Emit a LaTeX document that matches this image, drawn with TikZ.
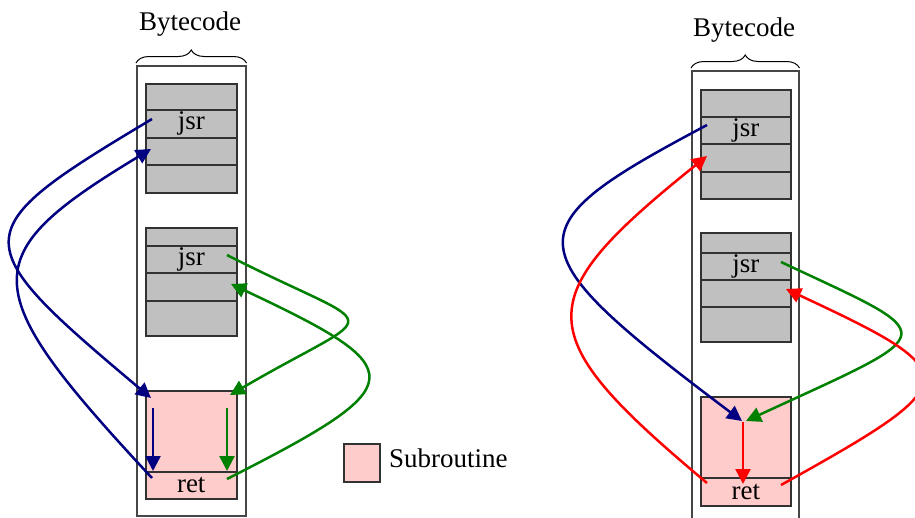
\documentclass[tikz,border=0pt]{standalone}
\usepackage{fontspec}
\setmainfont{Liberation Serif}
\usetikzlibrary{arrows.meta,decorations.pathreplacing}

\definecolor{bcgray}{RGB}{192,192,192}
\definecolor{subpink}{RGB}{255,204,204}
\definecolor{navyblue}{RGB}{0,0,128}
\definecolor{darkgreen}{RGB}{0,128,0}
\definecolor{edgegray}{RGB}{50,50,50}
\definecolor{framegray}{RGB}{70,70,70}

\tikzset{
  txt/.style={font=\fontsize{27}{27}\selectfont, inner sep=0pt},
  frame/.style={draw=framegray, line width=1.5pt, inner sep=0pt, anchor=north west},
  coderow/.style={draw=edgegray, fill=bcgray, line width=1.5pt, inner sep=0pt,
    anchor=north west, txt},
  subrow/.style={coderow, fill=subpink},
  bytebrace/.style={draw=black, line width=1pt, decorate,
    decoration={brace, amplitude=13pt}},
  flow/.style={line width=2.5pt, -{Triangle[length=15pt,width=15pt]}},
  flowblue/.style={flow, draw=navyblue},
  flowgreen/.style={flow, draw=darkgreen},
  flowred/.style={flow, draw=red},
}

\begin{document}
\begin{tikzpicture}[x=1pt,y=1pt]
\useasboundingbox (0,0) rectangle (915,-517);
\clip (0,0) rectangle (915,-517);

% ---------------- left column ----------------
\node[frame, minimum width=109pt, minimum height=450pt] (LB) at (136,-65) {};
\draw[bytebrace] ([yshift=2pt]LB.north west) -- ([yshift=2pt]LB.north east);
\node[txt] (Ltitle) at (190,-24) {Bytecode};

\node[coderow, minimum width=91pt, minimum height=26pt] (L1a) at (145,-83) {};
\node[coderow, minimum width=91pt, minimum height=28pt] (L1b) at (145,-109) {jsr};
\node[coderow, minimum width=91pt, minimum height=27pt] (L1c) at (145,-137) {};
\node[coderow, minimum width=91pt, minimum height=28pt] (L1d) at (145,-164) {};

\node[coderow, minimum width=91pt, minimum height=18pt] (L2a) at (145,-227) {};
\node[coderow, minimum width=91pt, minimum height=27pt] (L2b) at (145,-245) {jsr};
\node[coderow, minimum width=91pt, minimum height=28pt] (L2c) at (145,-272) {};
\node[coderow, minimum width=91pt, minimum height=35pt] (L2d) at (145,-300) {};

\node[subrow, minimum width=91pt, minimum height=81pt] (LSa) at (145,-390) {};
\node[subrow, minimum width=91pt, minimum height=27pt] (LSb) at (145,-471) {ret};

% connector end points
\coordinate (lb1s) at (152,-119);
\coordinate (lb1e) at (151,-398);
\coordinate (lb2s) at (152,-478);
\coordinate (lb2e) at (151,-149);
\coordinate (lg1s) at (227,-255);
\coordinate (lg1e) at (230,-395);
\coordinate (lg2s) at (227,-479);
\coordinate (lg2e) at (231,-284);
\coordinate (lbvs) at (153,-408);
\coordinate (lbve) at (153,-471);
\coordinate (lgvs) at (227,-408);
\coordinate (lgve) at (227,-471);

\draw[flowblue] (lb1s) .. controls (-37,-232) and (-37,-240) .. (lb1e);
\draw[flowblue] (lb2s) .. controls (-26,-287) and (-26,-256) .. (lb2e);
\draw[flowgreen] (lg1s) .. controls (386,-336) and (386,-304) .. (lg1e);
\draw[flowgreen] (lg2s) .. controls (414,-384) and (414,-370) .. (lg2e);
\draw[flowblue] (lbvs) -- (lbve);
\draw[flowgreen] (lgvs) -- (lgve);

% ---------------- legend ----------------
\node[subrow, minimum width=36pt, minimum height=38pt] (legbox) at (343,-443) {};
\node[txt, anchor=west] (legtext) at (389,-458) {Subroutine};

% ---------------- right column ----------------
\node[frame, minimum width=107pt, minimum height=460pt] (RB) at (691,-70) {};
\draw[bytebrace] ([yshift=2pt]RB.north west) -- ([yshift=2pt]RB.north east);
\node[txt] (Rtitle) at (744,-30) {Bytecode};

\node[coderow, minimum width=90pt, minimum height=27pt] (R1a) at (700,-89) {};
\node[coderow, minimum width=90pt, minimum height=27pt] (R1b) at (700,-116) {jsr};
\node[coderow, minimum width=90pt, minimum height=28pt] (R1c) at (700,-143) {};
\node[coderow, minimum width=90pt, minimum height=27pt] (R1d) at (700,-171) {};

\node[coderow, minimum width=90pt, minimum height=20pt] (R2a) at (700,-232) {};
\node[coderow, minimum width=90pt, minimum height=27pt] (R2b) at (700,-252) {jsr};
\node[coderow, minimum width=90pt, minimum height=27pt] (R2c) at (700,-279) {};
\node[coderow, minimum width=90pt, minimum height=35pt] (R2d) at (700,-306) {};

\node[subrow, minimum width=90pt, minimum height=81pt] (RSa) at (700,-396) {};
\node[subrow, minimum width=90pt, minimum height=28pt] (RSb) at (700,-477) {ret};

\coordinate (rbs) at (707,-125);
\coordinate (rbe) at (742,-421);
\coordinate (rr1s) at (707,-483);
\coordinate (rr1e) at (707,-156);
\coordinate (rgs) at (781,-262);
\coordinate (rge) at (746,-421);
\coordinate (rr2s) at (781,-485);
\coordinate (rr2e) at (786,-289);
\coordinate (rrvs) at (743,-422);
\coordinate (rrve) at (743,-484);

\draw[flowblue] (rbs) .. controls (511,-229) and (511,-247) .. (rbe);
\draw[flowred] (rr1s) .. controls (528,-333) and (528,-300) .. (rr1e);
\draw[flowgreen] (rgs) .. controls (945,-339) and (945,-329) .. (rge);
\draw[flowred] (rr2s) .. controls (968,-381) and (968,-374) .. (rr2e);
\draw[flowred] (rrvs) -- (rrve);
\end{tikzpicture}
\end{document}
